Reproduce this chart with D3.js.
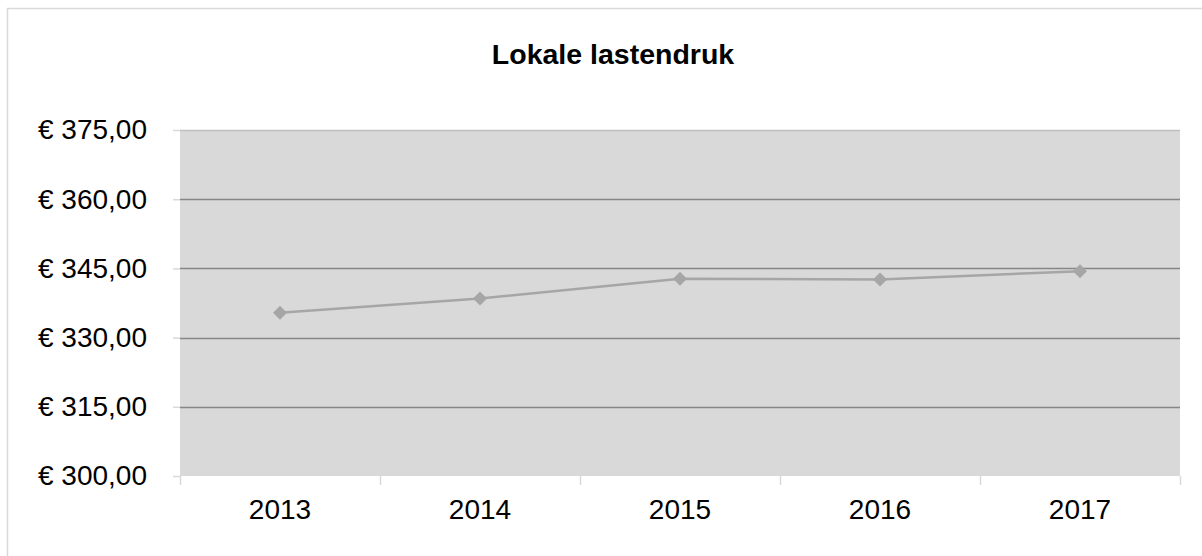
<!DOCTYPE html>
<html>
<head>
<meta charset="utf-8">
<script src="https://cdn.jsdelivr.net/npm/d3@7"></script>
<style>
  body { margin: 0; background: #fff; }
  svg { display: block; font-family: "Liberation Sans", Arial, sans-serif; }
</style>
</head>
<body>
<svg id="chart" width="1202" height="556"></svg>
<script>
const years = ['2013', '2014', '2015', '2016', '2017'];
const values = [335.4, 338.5, 342.75, 342.6, 344.4];
const yTicks = [300, 315, 330, 345, 360, 375];

const svg = d3.select('#chart');
const margin = { top: 130, right: 22, bottom: 80, left: 180 };
const width = 1202, height = 556;
const innerW = width - margin.left - margin.right;
const innerH = 476 - margin.top;

// outer chart border
svg.append('rect')
    .attr('x', 7.5).attr('y', 8.5)
    .attr('width', 1220).attr('height', 600)
    .attr('fill', 'none')
    .attr('stroke', '#d9d9d9')
    .attr('stroke-width', 1.5);

svg.append('text')
    .attr('x', 613).attr('y', 64)
    .attr('text-anchor', 'middle')
    .attr('font-size', '28.5px')
    .attr('font-weight', 'bold')
    .text('Lokale lastendruk');

const g = svg.append('g')
    .attr('transform', `translate(${margin.left},${margin.top})`);

const x = d3.scaleBand().domain(years).range([0, innerW]);
const y = d3.scaleLinear().domain([300, 375]).range([innerH, 0]);

g.append('rect')
    .attr('width', innerW).attr('height', innerH)
    .attr('fill', '#d9d9d9');

// gridlines
g.selectAll('.grid')
    .data(yTicks.filter(v => v > 300))
    .join('line')
    .attr('x1', 0).attr('x2', innerW)
    .attr('y1', d => Math.round(y(d)) + 0.5).attr('y2', d => Math.round(y(d)) + 0.5)
    .attr('stroke', d => d === 375 ? '#bfbfbf' : '#868686')
    .attr('stroke-width', 1.5);

// y axis
const yAxis = g.append('g')
    .call(d3.axisLeft(y).tickValues(yTicks).tickSize(7).tickPadding(26)
        .tickFormat(d => '€ ' + d3.format('.2f')(d).replace('.', ',')));
yAxis.attr('font-size', null).attr('font-family', null);
yAxis.select('.domain').remove();
yAxis.selectAll('line').attr('stroke', '#d9d9d9').attr('stroke-width', 1.5);
yAxis.selectAll('text').style('font-size', '28px').attr('fill', '#000');

// x axis
const xAxis = g.append('g').attr('transform', `translate(0,${innerH})`);
xAxis.selectAll('line')
    .data(d3.range(years.length + 1))
    .join('line')
    .attr('x1', i => i * x.bandwidth() + 0.5).attr('x2', i => i * x.bandwidth() + 0.5)
    .attr('y1', 0).attr('y2', 9)
    .attr('stroke', '#d9d9d9').attr('stroke-width', 1.5);
xAxis.selectAll('text')
    .data(years)
    .join('text')
    .attr('x', d => x(d) + x.bandwidth() / 2)
    .attr('y', 43)
    .attr('text-anchor', 'middle')
    .style('font-size', '28px')
    .text(d => d);

// series line
const line = d3.line()
    .x((d, i) => x(years[i]) + x.bandwidth() / 2)
    .y(d => y(d));

g.append('path')
    .datum(values)
    .attr('d', line)
    .attr('fill', 'none')
    .attr('stroke', '#a6a6a6')
    .attr('stroke-width', 2.5);

g.selectAll('.pt')
    .data(values)
    .join('path')
    .attr('transform', (d, i) => `translate(${x(years[i]) + x.bandwidth() / 2},${y(d)})`)
    .attr('d', 'M0,-7L7,0L0,7L-7,0Z')
    .attr('fill', '#a6a6a6');
</script>
</body>
</html>
